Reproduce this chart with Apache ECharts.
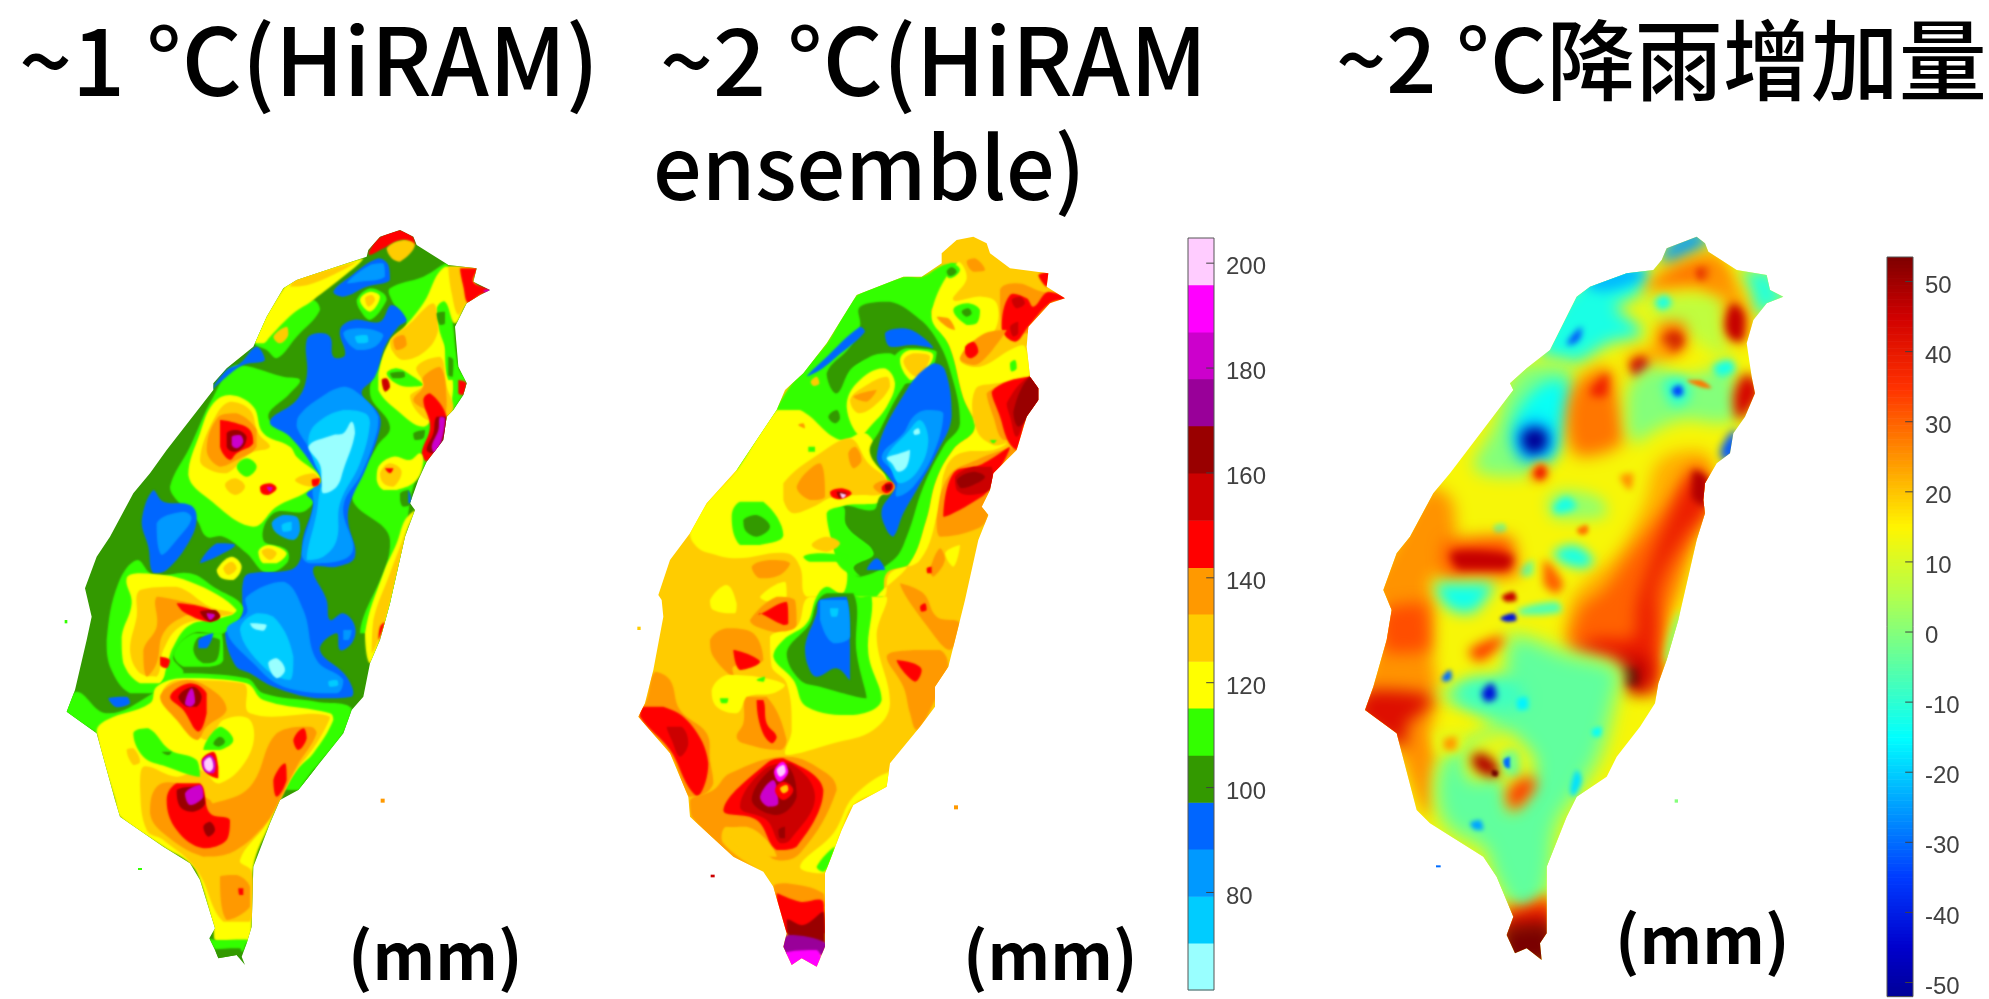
<!DOCTYPE html>
<html><head><meta charset="utf-8">
<style>html,body{margin:0;padding:0;background:#fff}#c{width:1989px;height:999px}</style>
<script src="https://cdn.jsdelivr.net/npm/echarts@6/dist/echarts.min.js"></script>
</head><body><div id="c"></div>
<script>
// --- Rainfall class scale (mm) for the two classed maps
const levelEdges = [61.4,70.4,79.3,88.3,97.2,106.2,115.2,124.1,133.1,142,151,160,169,178,186.9,195.9,204.8];
const levelColors = ['#99FFFF','#00CCFF','#0099FF','#0066FF','#339900','#33FF00','#FFFF00','#FFCC00','#FF9900','#FF0000','#CC0000','#990000','#990099','#CC00CC','#FF00FF','#FFCCFF'];
const rainTicks = [80,100,120,140,160,180,200];
// --- Rainfall-increase scale (mm) for the third map
const diffStops = [-55,-45,-35,-25,-15,-5,5,15,25,35,45,55];
const diffColors = ['#000080','#0000CC','#003BFF','#009DFF','#00FFFF','#58FFA7','#B0FF4F','#FFF500','#FF9300','#FF3100','#D00000','#700000'];
const diffTicks = [-50,-40,-30,-20,-10,0,10,20,30,40,50];
// --- Text
const titleTexts = ['~1 °C(HiRAM)','~2 °C(HiRAM','ensemble)','~2 °C降雨增加量'];
const unitText = '(mm)';

// --- Map 1: island outline and filled rainfall contours [class, x,y, x,y, ...] in map units
const map1Outline = [1050,30,1090,50,1100,75,1180,125,1195,135,1280,145,1270,185,1320,210,1290,225,1250,250,1215,320,1225,440,1250,490,1240,525,1210,570,1190,590,1180,660,1130,725,1105,780,1080,850,1095,870,1065,950,1020,1150,990,1260,960,1330,940,1430,905,1470,880,1540,800,1640,745,1710,690,1740,660,1810,610,1940,605,2120,590,2170,575,2210,585,2235,560,2205,505,2215,495,2190,478,2155,495,2125,450,1980,420,1930,340,1880,210,1790,195,1740,140,1540,50,1475,75,1410,110,1260,125,1190,105,1105,140,1010,180,950,250,820,300,760,350,690,490,510,490,490,530,445,610,380,650,290,700,205,740,180,830,150,950,110,955,90,990,50];
const map1Contours = [
[5,1020,205,1120,170,1190,130,1210,320,1225,440,1250,490,1200,590,1130,725,1090,800,1065,950,1000,1240,930,1240,1020,960,905,830,980,680,1020,620,960,520,1000,410,1070,320,1025,240],
[5,560,435,700,470,750,480,720,520,655,590,720,640,815,770,770,870,670,880,640,960,710,990,710,1030,650,1060,590,1000,520,950,470,950,440,900,380,840,360,800,420,680,490,530],
[5,615,370,700,240,790,240,810,270,740,350,680,415,650,390],
[6,610,365,700,205,740,180,940,115,790,240,730,280,660,350,640,370],
[7,735,180,830,150,920,125,790,190,720,200],
[7,670,350,710,320,715,345,690,370],
[5,920,240,960,205,1000,220,1010,240,960,300,930,270],
[6,930,240,960,215,990,230,960,275],
[7,945,235,965,225,975,240,955,260],
[9,955,100,985,55,1045,30,1090,50,1095,75,1060,60,1010,80,960,105],
[7,1010,85,1060,60,1095,75,1050,125,1025,115],
[6,1185,140,1120,250,1060,325,1015,370,985,460,985,510,1040,570,1120,620,1170,560,1205,540,1200,430,1165,320,1160,265,1185,245,1215,310,1250,250,1290,215,1270,180,1275,145],
[7,1195,140,1275,145,1270,185,1300,215,1250,250,1225,285,1205,220],
[9,1230,145,1280,145,1270,185,1320,210,1290,225,1255,250,1240,200],
[13,1300,212,1325,208,1320,222],
[7,1150,250,1160,270,1165,330,1130,390,1060,420,1025,390,1020,360,1080,310,1130,260],
[8,1030,360,1060,345,1070,375,1040,390],
[4,1160,280,1185,275,1185,310,1170,315],
[5,1190,330,1215,400,1215,480,1195,480,1185,400],
[4,1195,410,1210,420,1208,470,1195,465],
[5,1010,460,1040,445,1090,470,1120,495,1070,500,1030,485],
[4,1020,460,1060,455,1065,470,1030,475],
[7,1100,440,1170,410,1190,500,1210,560,1190,600,1130,600,1080,530,1120,495],
[8,1120,470,1170,440,1190,540,1180,590,1130,570,1090,540,1120,500],
[9,1120,540,1140,520,1190,590,1180,650,1130,725,1115,700,1140,620],
[11,1160,590,1190,590,1180,660,1150,700,1130,690,1150,640],
[13,1170,590,1185,595,1175,660,1155,700,1145,680,1165,630],
[9,1225,480,1250,490,1240,525,1225,520],
[10,995,480,1010,475,1020,500,1005,515],
[4,1090,640,1125,630,1120,655,1095,660],
[6,985,740,1030,710,1080,720,1110,700,1120,720,1100,780,1040,810,1000,810,980,780],
[7,990,760,1020,730,1055,755,1030,800,1000,790],
[9,1005,745,1030,745,1020,760],
[4,1050,820,1075,810,1085,850,1060,860,1050,840],
[3,1075,810,1085,850,1075,850],
[6,1065,900,1095,870,1065,950,1020,1150,990,1260,960,1330,945,1240,1000,1060,1040,970],
[7,1070,930,1020,1150,990,1250,965,1300,970,1200,1020,1060],
[9,990,1220,1005,1205,985,1260],
[3,770,360,800,340,840,350,850,410,885,405,870,330,910,300,990,305,1025,255,1070,300,1045,320,1005,380,975,470,935,520,985,580,990,625,950,740,900,850,895,910,915,1010,860,1040,790,1045,830,1140,840,1200,880,1180,915,1220,905,1270,870,1290,860,1240,810,1290,890,1370,905,1430,800,1435,670,1400,600,1360,555,1335,525,1230,570,1190,580,1080,600,1060,720,1050,750,1020,760,950,790,850,770,820,815,790,790,740,720,650,660,605,740,540,770,470],
[3,850,215,900,170,985,115,1015,135,1020,180,950,200,880,230],
[2,890,190,960,135,1000,130,1005,170,930,185],
[2,880,340,930,325,1000,345,975,380,920,390],
[1,915,350,950,345,955,365,925,370],
[2,745,590,800,540,880,500,925,520,985,590,980,640,935,760,880,860,905,1000,780,1030,755,1000,790,860,790,800,820,780,780,690,740,620],
[1,775,660,800,610,880,570,945,580,960,610,930,730,870,850,860,960,820,1010,770,1020,800,880,810,810,820,790,790,720],
[0,775,680,850,645,880,640,905,605,915,640,880,750,860,800,820,820,815,790,810,735],
[3,275,905,310,810,340,845,420,855,440,890,420,960,350,1050,310,1060,295,980],
[2,320,910,400,875,425,895,380,960,335,1005],
[2,665,910,700,885,740,890,750,930,730,960,680,940],
[1,695,915,725,905,725,930,700,935],
[3,450,1030,500,970,555,975,500,1010],
[3,485,510,530,450,570,430,620,380,645,420,580,435,530,470],
[6,415,765,450,640,490,550,540,525,610,560,640,640,720,680,740,710,810,775,770,815,680,860,610,920,480,840],
[7,450,720,490,600,540,545,600,570,625,640,660,680,600,700,530,760,480,750],
[8,470,690,505,590,560,580,620,630,620,680,560,720,510,740],
[9,510,600,560,610,600,630,610,670,560,700,540,720,510,680],
[11,530,640,560,630,590,650,580,680,550,695,530,680],
[13,545,650,570,645,580,665,560,685,545,675],
[5,560,740,590,715,620,740,590,770],
[7,525,795,555,775,585,800,555,825],
[9,630,800,660,790,680,805,655,825,635,820],
[13,650,800,668,802,660,815],
[7,735,780,790,760,810,785,780,800],
[9,785,780,810,775,805,795,790,800],
[6,625,995,655,975,710,1000,680,1030,640,1030],
[7,635,995,655,985,680,1000,660,1020],
[6,500,1050,545,1010,575,1040,550,1080,515,1075],
[7,520,1045,545,1025,560,1045,535,1065],
// southern half
[5,205,1090,262,1020,310,1065,420,1060,490,1100,580,1165,520,1240,430,1240,370,1310,400,1360,320,1420,240,1420,180,1340,170,1260],
[6,230,1075,270,1060,420,1085,560,1170,510,1195,420,1215,370,1280,350,1340,330,1390,270,1390,220,1330,215,1250,245,1150],
[7,270,1110,380,1100,480,1160,550,1180,480,1195,390,1220,340,1290,320,1370,270,1360,240,1290,260,1190],
[8,320,1130,380,1140,480,1170,400,1190,340,1240,320,1330,290,1370,280,1290,320,1220],
[9,380,1150,470,1165,510,1190,475,1205,400,1175],
[11,450,1175,495,1170,510,1190,480,1205],
[13,470,1180,495,1185,480,1200],
[9,330,1310,360,1320,350,1345,330,1335],
[5,370,1300,430,1240,515,1240,520,1320,480,1340,400,1340],
[4,430,1290,450,1250,510,1260,500,1320,460,1330],
[3,445,1260,490,1240,470,1285,445,1285],
[2,530,1230,590,1180,590,1130,700,1085,760,1170,800,1320,880,1380,860,1420,700,1400,610,1330],
[1,570,1230,620,1180,680,1200,730,1310,720,1380,640,1340],
[0,600,1210,650,1215,640,1232,610,1225],
[0,655,1330,680,1315,705,1350,680,1375],
[1,835,1385,860,1380,865,1395,840,1400],
[2,880,1230,905,1230,895,1260,880,1260],
[3,175,1435,230,1430,240,1450,200,1462],
[5,48,1475,80,1415,170,1480,300,1425,370,1360,590,1375,640,1420,800,1445,905,1465,880,1540,800,1640,750,1710,640,1700,200,1600,140,1540],
[4,790,1650,805,1640,780,1690,750,1710],
[6,140,1535,170,1500,300,1450,320,1400,400,1375,590,1390,640,1440,840,1480,850,1500,790,1600,740,1650,695,1730,660,1810,610,1940,605,2120,595,2165,500,2165,490,2125,450,1980,420,1930,340,1880,210,1790,195,1740],
[7,280,1640,380,1670,450,1650,510,1690,600,1600,600,1500,520,1500,480,1560,430,1530,440,1480,340,1420,380,1380,580,1390,600,1480,840,1490,800,1570,720,1680,650,1810,570,1920,605,1955,600,2105,520,2105,440,1950,340,1860,290,1830,270,1700],
[8,490,1750,600,1700,680,1540,780,1520,800,1540,740,1640,690,1740,640,1820,540,1900,460,1910,340,1840,300,1780,320,1700,380,1690,480,1740],
[9,350,1740,380,1690,450,1690,480,1780,540,1800,530,1860,460,1885,380,1830],
[11,380,1710,440,1700,465,1750,430,1775,390,1760],
[13,405,1720,450,1695,460,1730,420,1755],
[11,460,1820,480,1805,495,1830,475,1850],
[9,730,1560,760,1525,770,1555,745,1590],
[9,670,1680,705,1630,710,1680,680,1730],
[8,510,1970,560,1965,600,2000,600,2060,530,2100],
[9,565,2005,580,2005,580,2025,568,2025],
[5,250,1540,295,1525,360,1590,440,1620,450,1670,350,1640,280,1610],
[4,335,1595,365,1595,355,1605],
[7,230,1590,250,1585,270,1625,250,1635],
[8,330,1430,410,1380,500,1420,530,1470,470,1520,440,1560,380,1500],
[9,360,1430,420,1390,470,1420,470,1480,445,1535,400,1470],
[11,385,1430,430,1400,455,1430,440,1460,410,1460],
[13,405,1450,425,1405,435,1445,420,1460],
[5,460,1590,510,1520,550,1560,510,1590],
[4,490,1570,510,1550,525,1565,505,1580],
[9,455,1620,490,1595,505,1640,505,1675,470,1660],
[13,455,1625,480,1605,497,1630,490,1660,465,1655],
[15,462,1625,480,1612,490,1640,478,1655,465,1645],
[5,478,2155,495,2160,600,2160,590,2170,575,2195,500,2190],
[4,495,2190,570,2185,575,2210,505,2215]
];
const map1Specks = [[8,992,1736,1004,1736,1004,1748,992,1748],[5,264,1944,276,1944,276,1950,264,1950],[5,44,1200,52,1200,52,1210,44,1210]];

// --- Map 2
const map2Outline = [1060,50,1100,70,1110,100,1170,145,1285,160,1280,200,1335,235,1290,250,1225,320,1220,380,1230,470,1255,505,1255,540,1220,590,1190,690,1120,760,1110,810,1085,860,1105,885,1075,960,1035,1140,1015,1220,985,1340,945,1400,945,1460,900,1520,810,1630,800,1700,700,1755,665,1830,615,1960,615,2180,590,2240,545,2215,515,2235,490,2180,500,2140,460,2000,430,1955,340,1910,210,1790,205,1730,150,1600,55,1490,75,1450,100,1350,130,1190,125,1140,115,1125,150,1020,210,940,260,850,350,750,470,570,495,510,550,460,620,370,710,225,850,170,905,170,965,130,965,100,1010,60];
const map2Contours = [
[5,350,750,440,610,530,470,620,370,710,225,850,170,905,170,970,135,1010,130,1020,160,960,240,935,280,990,380,1030,530,1065,625,1000,690,950,780,920,900,870,1030,800,1060,780,1140,620,1140,560,1000],
[6,210,940,260,850,350,750,470,570,540,570,660,660,740,640,800,780,800,840,650,870,640,980,680,1040,660,1130,560,1130,540,1040,500,1000,350,1015,270,1000,230,980],
[6,1015,125,1040,175,1000,240,1085,230,1130,250,1125,330,1070,370,1020,420,1080,440,1180,385,1215,380,1230,470,1130,490,1065,510,1070,630,1120,675,1160,670,1120,690,1020,700,975,750,955,870,900,1020,810,1060,795,1130,770,1130,870,1030,920,900,950,780,1000,690,1065,625,1030,530,990,380,935,285],
[4,720,260,810,245,890,290,945,350,990,450,1020,610,970,680,910,800,860,950,820,1020,720,1070,700,1040,760,1000,680,920,670,860,760,870,780,830,820,800,750,700,780,630,850,500,920,420,830,420,780,420,700,440,650,520,620,460,690,380,720,320],
[5,690,460,750,410,810,400,850,440,830,510,780,600,740,640,690,590,680,510],
[6,680,560,710,490,790,445,825,490,800,560,750,620,720,650],
[7,690,540,740,495,800,470,810,500,760,560,715,580],
[8,700,530,770,510,740,545],
[5,820,420,860,385,950,395,915,480,850,490],
[6,840,420,870,390,940,405,900,475,870,480],
[7,850,425,880,400,930,410,890,470],
[3,795,340,850,325,900,345,940,385,880,375,810,380],
[3,560,470,610,420,720,320,735,335,650,410,600,450],
[3,770,710,860,510,940,430,975,450,995,590,950,700,890,810,850,880,820,950,800,930,785,870,820,800],
[2,785,710,850,640,880,590,920,570,970,580,945,690,880,800,830,830,830,770],
[1,800,710,860,640,900,600,925,660,895,750,840,790,810,740],
[0,800,715,840,700,870,690,860,740,835,755,815,730],
[0,880,635,895,625,900,640,885,645],
[7,490,790,600,700,690,655,745,730,800,780,790,820,720,825,640,830,580,860,520,880,490,840],
[8,530,800,600,730,615,830,570,840],
[8,685,700,705,680,725,720,700,745],
[8,760,800,800,780,825,800,800,825],
[9,785,800,810,785,820,800,800,820,785,810],
[11,795,795,815,792,812,810,798,812],
[9,630,815,665,805,695,820,660,838,635,830],
[11,650,815,680,820,660,835],
[15,660,820,678,825,668,835],
[5,620,880,670,860,680,920,760,1000,700,1040,720,1070,660,1040,640,980],
[5,335,890,360,845,430,845,490,945,420,975,360,975],
[4,370,900,410,885,450,920,410,950,375,930],
[4,625,590,650,570,660,595,645,610],
[5,565,680,585,680,585,695,565,695],
[7,572,485,590,470,598,490,582,498],
[8,535,615,550,610,555,625],
[7,575,975,620,950,660,970,620,995],
[5,550,1010,600,1000,680,1010,660,1025,570,1025],
[3,740,1050,770,1015,795,1050],
[6,270,1140,320,1095,350,1150,345,1180,280,1170],
[8,395,1040,450,1020,510,1030,480,1065,420,1075],
[6,420,1130,495,1085,500,1130,450,1145],
[8,390,1200,470,1130,525,1140,530,1215,500,1240,410,1220],
[9,415,1185,500,1145,505,1210,490,1215,420,1180],
[8,270,1260,320,1225,400,1240,430,1320,340,1340,340,1370,280,1310],
[9,340,1290,420,1325,360,1350],
[6,275,1410,320,1365,410,1370,495,1395,460,1420,385,1430,350,1480,290,1460],
[5,300,1435,325,1435,320,1450,305,1450],
[5,410,1380,435,1370,430,1385],
[8,380,1430,440,1430,500,1560,480,1590,370,1570,350,1550,370,1510],
[9,410,1440,430,1440,440,1510,470,1550,455,1570,425,1530],
[6,570,1130,800,1130,770,1250,810,1450,760,1530,640,1570,500,1605,515,1530,500,1390,455,1340,450,1250,530,1220],
[5,460,1310,490,1260,560,1210,590,1130,620,1100,660,1120,690,1120,720,1130,755,1130,745,1300,785,1440,700,1485,560,1460,520,1380],
[4,500,1300,570,1210,590,1150,620,1120,700,1120,710,1300,740,1435,600,1400,540,1380],
[3,555,1280,590,1180,600,1140,680,1130,690,1280,690,1380,650,1345,590,1370,565,1340],
[2,600,1140,680,1140,690,1250,640,1270,600,1200],
[1,630,1165,655,1165,650,1190,635,1190],
[8,80,1440,105,1355,150,1380,180,1470,260,1540,270,1620,280,1690,240,1730,205,1730,150,1600,55,1490],
[9,60,1490,70,1460,130,1460,210,1510,265,1630,235,1730,205,1700,150,1590],
[10,140,1520,185,1520,205,1570,180,1610,155,1560],
[8,210,1740,280,1710,330,1660,500,1610,620,1660,650,1710,540,1900,470,1920,420,1880,320,1820,310,1870,420,1955,340,1910,215,1790],
[7,320,1830,380,1820,440,1860,470,1910,390,1910],
[9,310,1770,440,1630,490,1615,610,1710,530,1880,470,1890,410,1800],
[10,360,1760,430,1650,510,1630,585,1730,510,1860,480,1870,440,1800],
[11,395,1740,450,1650,505,1640,530,1730,470,1785],
[11,475,1830,495,1820,495,1855,480,1855],
[13,420,1730,460,1680,475,1750,445,1760],
[9,465,1710,490,1685,520,1710,490,1740],
[7,480,1705,500,1695,505,1710,490,1720],
[14,462,1655,488,1625,505,1655,478,1685],
[15,470,1650,490,1635,497,1655,480,1670],
[6,700,1755,800,1700,810,1655,700,1730,640,1840,540,1940,610,1960,665,1830],
[5,590,1940,645,1880,630,1930,610,1955],
[8,460,2000,500,1990,610,2020,615,2060,490,2060],
[9,470,2020,540,2045,610,2045,615,2140,500,2140],
[11,500,2100,550,2115,610,2075,615,2170,505,2150],
[12,480,2190,505,2145,620,2170,610,2205,510,2205],
[14,490,2200,590,2190,610,2260,545,2225,505,2250],
[8,840,1090,910,1120,950,1190,1020,1210,990,1290,930,1230],
[9,900,1160,915,1150,920,1170,905,1175],
[6,975,1000,1020,975,1000,1040],
[8,930,1050,960,985,975,1020,940,1070],
[9,920,1045,935,1040,935,1060,922,1060],
[8,800,1310,880,1290,960,1290,985,1340,945,1440,890,1530,870,1480,850,1400],
[9,830,1320,880,1330,905,1350,885,1385],
[8,950,900,985,770,1070,720,1170,685,1190,690,1120,760,1105,885,1075,925,960,950],
[9,970,890,1000,760,1080,735,1170,680,1110,800,1085,830],
[10,1005,770,1060,740,1115,740,1120,800,1050,825,1010,810],
[11,1010,780,1060,755,1095,770,1070,790,1025,805],
[8,1100,520,1230,480,1200,650,1150,660,1120,590],
[9,1115,515,1230,470,1255,505,1255,540,1220,590,1190,690,1165,665,1140,590],
[10,1160,550,1230,470,1265,510,1260,545,1220,590,1190,650,1170,590],
[11,1180,575,1230,470,1265,510,1260,540,1225,590,1195,620],
[8,1140,210,1190,190,1250,210,1290,230,1225,340,1150,340],
[9,1145,325,1170,225,1220,235,1240,260,1285,215,1340,235,1290,250,1225,320,1185,365],
[10,1170,320,1195,305,1195,340,1180,350],
[10,1175,240,1200,230,1215,250,1190,265],
[9,1255,165,1290,155,1280,200,1265,185],
[8,1020,415,1085,345,1160,330,1140,360,1090,420,1060,435],
[9,1035,380,1060,365,1075,395,1050,415,1035,400],
[5,1000,270,1040,250,1080,270,1070,310,1040,315],
[4,1025,275,1045,265,1055,280,1040,290],
[8,1040,125,1065,115,1095,150,1060,155],
[8,950,290,985,295,1005,330,980,320],
[5,975,155,995,130,1020,150,990,175],
[4,980,155,995,142,1010,155,990,168],
[5,1170,430,1185,420,1190,445,1175,455],
[5,1110,660,1130,660,1120,670]
];
const map2Specks = [[8,1002,1756,1014,1756,1014,1768,1002,1768],[10,272,1964,284,1964,284,1972,272,1972],[7,52,1220,62,1220,62,1230,52,1230]];

// --- Map 3: outline and filled increase regions [mm, x,y, x,y, ...]
const map3Outline = [1040,50,1065,70,1075,95,1160,150,1250,165,1260,210,1300,230,1250,250,1210,300,1190,370,1205,470,1215,520,1185,590,1150,640,1140,700,1100,730,1065,790,1060,840,1065,880,1040,960,985,1200,950,1320,925,1390,915,1450,870,1520,800,1610,770,1670,680,1730,650,1790,590,1940,590,2140,570,2170,575,2220,530,2185,495,2200,470,2145,490,2090,440,1970,400,1910,240,1810,200,1770,140,1540,45,1470,70,1400,110,1260,125,1170,100,1110,140,1000,180,950,250,820,300,760,490,510,480,490,530,445,600,390,680,230,720,200,830,160,910,150,935,120,950,85];
const map3Contours = [
[7,880,230,1110,220,1130,320,1140,420,1000,340,920,300],
[-12,570,400,660,210,830,130,900,150,860,230,800,260,870,320,870,350,780,370,680,430,640,420],
[-25,930,100,1030,30,1080,60,1000,110,950,130],
[-22,700,190,830,140,890,165,760,215],
[-34,650,370,695,320,690,355,660,375],
[0,470,500,530,430,640,430,670,480,660,560,640,640,600,720,500,770,370,740,430,620],
[-14,510,560,600,480,660,500,640,620,590,720,510,700,490,650],
[-25,495,640,560,600,610,650,590,710,520,720],
[-52,515,650,550,625,590,640,590,680,540,700],
[22,535,770,565,725,600,745,590,785,550,790],
[38,550,760,575,735,590,760,570,780],
[28,880,210,950,150,1060,110,1100,130,1130,190,1000,200],
[42,1040,150,1075,140,1090,165,1050,180],
[-11,1170,150,1270,150,1280,200,1320,230,1260,270,1220,290,1200,210],
[-11,915,245,945,225,965,250,935,270],
[25,1075,95,1120,130,1180,240,1200,300,1190,370,1140,360,1120,240,1060,190],
[46,1125,310,1150,250,1185,290,1175,365,1140,355],
[28,930,310,1000,305,1010,380,960,410,920,390],
[46,940,360,975,335,1000,360,970,390],
[24,830,410,920,380,1000,340,900,450,860,480],
[44,840,430,880,410,895,440,860,470],
[28,680,490,770,440,800,520,820,660,690,710,650,620],
[38,720,510,775,460,770,530,730,530],
[0,830,520,900,440,1000,470,1140,430,1160,590,1110,610,1000,600,900,640,860,670,830,620],
[-12,1090,440,1140,420,1155,450,1110,470],
[-10,940,480,1000,470,1020,530,975,560,950,530],
[-34,965,510,990,495,1000,520,980,530],
[28,1010,480,1050,480,1085,505,1050,500],
[44,1150,530,1190,460,1230,510,1200,570,1165,600],
[-32,1110,695,1155,630,1165,690,1125,725],
[22,800,1000,880,860,930,720,1050,690,1090,740,1060,880,1030,960,1000,1100,985,1140,960,1180,920,1340,915,1430,780,1380,640,1310,660,1150,700,1090],
[30,840,1000,940,870,1040,730,1080,790,1070,880,1000,1020,950,1170,940,1260,910,1420,800,1360,660,1320,690,1170,760,1110],
[39,880,1090,960,890,1040,760,1075,850,1000,950,920,1100,920,1220,900,1400,810,1330,670,1320,730,1260,850,1250,860,1170],
[48,1030,750,1075,780,1070,860,1025,830],
[47,790,1320,880,1310,900,1400,840,1420],
[58,815,1345,860,1345,865,1395,825,1395],
[0,985,1180,1010,1190,965,1330,945,1320],
[2,590,850,640,810,760,840,770,890,620,900],
[-12,610,860,650,830,680,860,620,880],
[0,430,920,460,910,470,930,440,940],
[-12,610,1000,670,975,730,1020,700,1045,640,1030],
[-3,510,1050,550,1020,550,1060,520,1070],
[30,580,1020,640,1090,620,1120,580,1090],
[25,810,770,850,760,840,810],
[28,680,930,710,915,715,935,695,945],
[25,60,1110,120,990,240,800,310,850,320,1050,240,1080,250,1140,245,1290,265,1430,245,1500,265,1680,235,1790,120,1560,20,1490,40,1390,90,1170],
[32,90,1180,225,1150,240,1290,110,1300],
[32,280,970,480,950,500,1070,290,1070],
[46,300,1000,370,990,490,1010,470,1050,330,1050],
[42,20,1480,60,1410,250,1430,215,1480,175,1510,165,1580,120,1560],
[6,250,1410,350,1395,440,1370,480,1230,650,1280,830,1350,810,1450,770,1600,710,1710,640,1820,610,1970,580,2070,500,2090,420,1970,390,1900,280,1830,245,1700,285,1590,380,1530,410,1510,370,1470],
[-4,280,1430,350,1420,460,1400,500,1260,640,1310,800,1360,780,1440,740,1590,680,1700,610,1810,590,1960,560,2050,510,2070,440,1960,410,1880,300,1810,270,1700,310,1600,400,1560,440,1520,400,1480],
[-13,255,1090,430,1090,420,1120,360,1180,290,1160],
[-6,500,1170,620,1145,635,1175,520,1185],
[46,455,1130,490,1115,500,1140,470,1145],
[-42,450,1195,490,1180,500,1200,470,1205],
[34,355,1295,440,1250,465,1255,390,1325],
[-8,310,1410,380,1370,470,1370,530,1440,450,1470,340,1450],
[-42,395,1420,425,1390,440,1430,410,1445],
[-16,500,1440,530,1430,535,1465,505,1470],
[-30,275,1375,300,1350,305,1375,285,1385],
[-24,360,1810,390,1800,400,1830,375,1830],
[-18,660,1710,680,1650,695,1680,670,1730],
[-14,725,1530,755,1520,750,1550,730,1550],
[12,250,1530,340,1530,340,1590,260,1600],
[24,280,1560,320,1550,320,1590,285,1590],
[12,340,1600,440,1530,490,1540,560,1640,480,1780,450,1680,360,1680],
[48,365,1610,400,1600,450,1650,435,1670,380,1650],
[58,425,1650,445,1655,440,1670,425,1665],
[-2,455,1600,500,1590,510,1670,470,1670],
[-30,460,1620,480,1610,480,1645,465,1640],
[34,470,1720,530,1670,560,1690,490,1770],
[25,470,2040,520,2070,590,2020,610,2100,470,2100],
[40,460,2090,600,2050,610,2150,450,2150],
[54,450,2125,600,2105,620,2240,460,2240]
];
const map3Specks = [[0,974,1738,984,1738,984,1748,974,1748],[-30,258,1936,272,1936,272,1942,258,1942]];

// --- layout
const mapGrids = [
  {left:50,top:220,width:460,height:779},
  {left:620,top:220,width:460,height:779},
  {left:1350,top:220,width:460,height:779}
];
const SMOOTH = 0.4;
function pairs(flat,from){const o=[];for(let i=from;i<flat.length;i+=2)o.push([flat[i],flat[i+1]]);return o;}
function classMid(k){return (levelEdges[k]+levelEdges[k+1])/2;}
function bbox(pts){let a=[1e9,1e9],b=[-1e9,-1e9];pts.forEach(p=>{a=[Math.min(a[0],p[0]),Math.min(a[1],p[1])];b=[Math.max(b[0],p[0]),Math.max(b[1],p[1])];});return [a,b];}

function mapSeries(gridIndex,outline,contours,specks,baseValue,toValue,blurFor){
  const rings=[[baseValue].concat(outline)].concat(contours.map(c=>[toValue(c[0])].concat(c.slice(1)))).concat(specks.map(c=>[toValue(c[0])].concat(c.slice(1))));
  const nClip=contours.length+1;
  return {
    type:'custom',coordinateSystem:'cartesian2d',xAxisIndex:gridIndex,yAxisIndex:gridIndex,silent:true,animation:false,clip:false,
    encode:{x:1,y:2},
    data:rings.map((r,i)=>[r[0],r[1],r[2],i]),
    renderItem(params,api){
      const i=api.value(3),ring=rings[i];
      const pts=pairs(ring,1).map(p=>api.coord(p));
      const color=api.visual('color');
      if(i===0||i>=nClip) return {type:'polygon',shape:{points:pts},style:{fill:color}};
      const clipPts=pairs(rings[0],1).map(p=>api.coord(p));
      const off=3000;
      const shifted=pts.map(p=>[p[0]-off,p[1]]);
      const box=bbox(shifted);
      return {type:'group',
        clipPath:{type:'polygon',shape:{points:clipPts}},
        children:[{type:'polygon',shape:{points:shifted,smooth:SMOOTH,smoothConstraint:box},
          style:{fill:color,shadowColor:color,shadowBlur:blurFor(Math.min(box[1][0]-box[0][0],box[1][1]-box[0][1])),shadowOffsetX:off}}]};
    }
  };
}

function barSeries(gridIndex,edges,values){
  return {type:'custom',coordinateSystem:'cartesian2d',xAxisIndex:gridIndex,yAxisIndex:gridIndex,silent:true,animation:false,z:1,
    encode:{y:1},
    data:values.map((v,i)=>[v,edges[i],edges[i+1]]),
    renderItem(params,api){
      const a=api.coord([0,api.value(2)]),b=api.coord([1,api.value(1)]);
      return {type:'rect',shape:{x:a[0],y:a[1],width:b[0]-a[0],height:b[1]-a[1]+0.6},style:{fill:api.visual('color')}};
    }};
}
// tick marks on the inner right edge of a colour bar, placed by the bar's own value axis
function tickSeries(gridIndex,ticks){
  return {type:'custom',coordinateSystem:'cartesian2d',xAxisIndex:gridIndex,yAxisIndex:gridIndex,silent:true,animation:false,z:3,
    encode:{y:0},
    data:ticks.map(v=>[v]),
    renderItem(params,api){
      const a=api.coord([0.7,api.value(0)]),b=api.coord([1,api.value(0)]);
      return {type:'line',shape:{x1:a[0],y1:a[1],x2:b[0],y2:b[1]},style:{stroke:'#404040',lineWidth:1}};
    }};
}

const bar1Mids=levelColors.map((c,k)=>classMid(k));
const diffEdges=[];for(let v=-52;v<=53.5;v+=0.5)diffEdges.push(v);
const diffMids=diffEdges.slice(0,-1).map(v=>v+0.25);

const hiddenX=i=>({type:'value',gridIndex:i,min:0,max:1380,show:false});
const hiddenY=i=>({type:'value',gridIndex:i,min:0,max:2337,inverse:true,show:false});
const barX=i=>({type:'value',gridIndex:i,min:0,max:1,show:false});
const barY=(i,min,max,ticks)=>({type:'value',gridIndex:i,min,max,position:'right',z:10,
  splitLine:{show:false},
  axisLine:{show:false},
  axisTick:{show:false},
  axisLabel:{show:true,margin:12,color:'#404040',fontFamily:'Liberation Sans',fontSize:24,verticalAlign:'top',lineHeight:9,customValues:ticks,showMinLabel:true,showMaxLabel:true}});

const titleFont='"Noto Sans CJK TC"';
const titleStyle=size=>({fontFamily:titleFont,fontSize:size,fontWeight:500,color:'#000',lineHeight:100});
const unitStyle={fontFamily:titleFont,fontSize:65,fontWeight:700,color:'#000'};
const option={
  backgroundColor:'#fff',
  animation:false,
  title:[
    {text:titleTexts[0],left:14,top:6,textStyle:titleStyle(93)},
    {text:titleTexts[1],left:655,top:6,textStyle:titleStyle(93)},
    {text:titleTexts[2],left:648,top:112,textStyle:titleStyle(86)},
    {text:titleTexts[3],left:1331,top:5,textStyle:titleStyle(88)},
    {text:unitText,left:343,top:918,textStyle:unitStyle},
    {text:unitText,left:958,top:918,textStyle:unitStyle},
    {text:unitText,left:1610,top:902,textStyle:unitStyle}
  ],
  grid:[
    mapGrids[0],mapGrids[1],mapGrids[2],
    {left:1188,top:238,width:26,height:752,show:true,borderColor:'#555',borderWidth:1,backgroundColor:'transparent',z:5},
    {left:1887,top:257,width:26,height:745.6,show:true,borderColor:'#555',borderWidth:1,backgroundColor:'transparent',z:5}
  ],
  xAxis:[hiddenX(0),hiddenX(1),hiddenX(2),barX(3),barX(4)],
  yAxis:[hiddenY(0),hiddenY(1),hiddenY(2),
    barY(3,levelEdges[0],levelEdges[16],rainTicks),
    barY(4,-52,53.5,diffTicks)],
  visualMap:[
    {type:'piecewise',show:false,dimension:0,seriesIndex:[0,1,3],
      pieces:levelColors.map((c,k)=>({min:levelEdges[k],max:levelEdges[k+1],color:c}))},
    {type:'continuous',show:false,dimension:0,seriesIndex:[2,4],min:diffStops[0],max:diffStops[diffStops.length-1],
      inRange:{color:diffColors}}
  ],
  series:[
    mapSeries(0,map1Outline,map1Contours,map1Specks,classMid(4),classMid,()=>2),
    mapSeries(1,map2Outline,map2Contours,map2Specks,classMid(7),classMid,()=>2),
    mapSeries(2,map3Outline,map3Contours,map3Specks,14,v=>v,s=>Math.max(3,Math.min(16,0.45*s))),
    barSeries(3,levelEdges,bar1Mids),
    barSeries(4,diffEdges,diffMids),
    tickSeries(3,rainTicks),
    tickSeries(4,diffTicks)
  ]
};
echarts.init(document.getElementById('c'),null,{renderer:'canvas'}).setOption(option);
</script></body></html>
